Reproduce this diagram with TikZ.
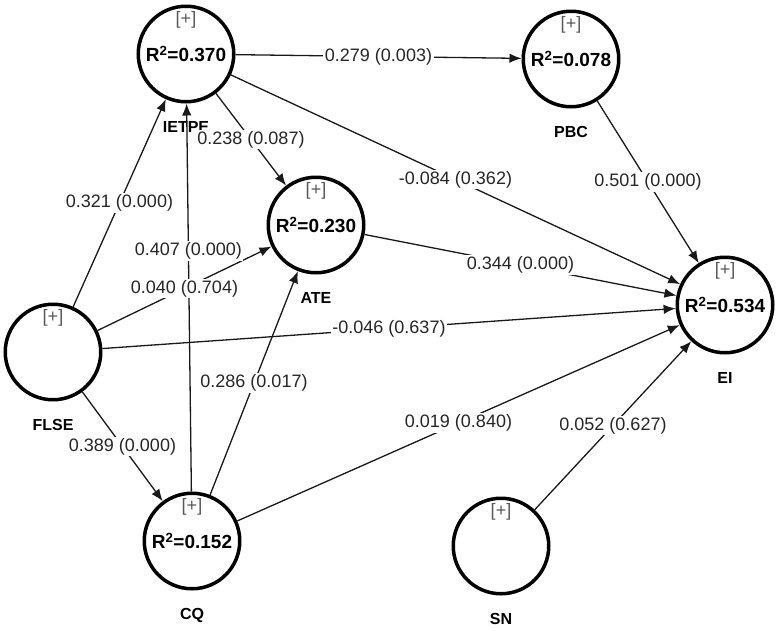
\documentclass[tikz,border=0pt]{standalone}
\usepackage{fontspec}
\setmainfont{Liberation Sans}
\usepackage{tikz}
\usetikzlibrary{arrows.meta}

\tikzset{
  construct/.style={draw, circle, line width=3.5pt, minimum size=95.5pt, inner sep=0pt,
    font=\fontsize{19}{21}\selectfont\bfseries},
  namelbl/.style={font=\fontsize{16}{18}\selectfont\bfseries, inner sep=2pt, label distance=16pt},
  plus/.style={text=black!65, font=\fontsize{18}{20}\selectfont},
  path coef/.style={draw=black!90, line width=1.3pt, -{Latex[length=12pt,width=9.5pt]}},
  coef/.style={fill=white, text=black!85, inner sep=1.5pt, font=\fontsize{18}{20}\selectfont}
}

\def\paths{IETPE/PBC/0.5/{0.279 (0.003)}, IETPE/ATE/0.5/{0.238 (0.087)},
  IETPE/EI/0.5/{-0.084 (0.362)}, PBC/EI/0.5/{0.501 (0.000)},
  FLSE/IETPE/0.5/{0.321 (0.000)}, FLSE/ATE/0.5/{0.040 (0.704)},
  FLSE/EI/0.5/{-0.046 (0.637)}, FLSE/CQ/0.5/{0.389 (0.000)},
  CQ/IETPE/0.62/{0.407 (0.000)}, CQ/ATE/0.5/{0.286 (0.017)},
  CQ/EI/0.5/{0.019 (0.840)}, ATE/EI/0.5/{0.344 (0.000)},
  SN/EI/0.5/{0.052 (0.627)}}

\begin{document}
\begin{tikzpicture}[x=1pt, y=-1pt]
\useasboundingbox (0,0) rectangle (779,630);
% constructs
\foreach \n/\x/\y/\r in {IETPE/186/54/{R\textsuperscript{2}=0.370}, PBC/571/59/{R\textsuperscript{2}=0.078},
  ATE/316/225/{R\textsuperscript{2}=0.230}, EI/725/305/{R\textsuperscript{2}=0.534},
  FLSE/53/352/{}, CQ/192/541/{R\textsuperscript{2}=0.152}, SN/501/546/{}}
{
  \node[construct, label={[namelbl]below:\n}] (\n) at (\x,\y) {\r};
  \node[plus] (\n-plus) at ([yshift=34pt]\n.center) {[+]};
}
% paths, then the coefficients on top
\foreach \a/\b/\p/\t in \paths
  \draw[path coef] (\a) -- (\b);
\foreach \a/\b/\p/\t in \paths
  \path (\a) -- node[coef, pos=\p] (\a-\b) {\t} (\b);
\end{tikzpicture}
\end{document}
